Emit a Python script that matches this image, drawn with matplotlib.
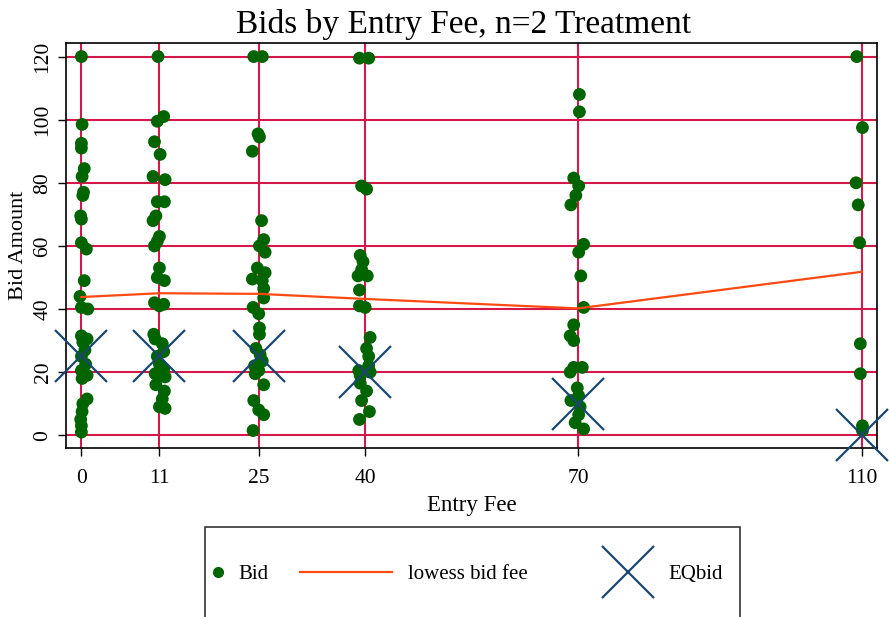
import numpy as np
import matplotlib
matplotlib.use("Agg")
import matplotlib.pyplot as plt
from matplotlib.lines import Line2D
from matplotlib.patches import Rectangle

plt.rcParams['font.family'] = ['Liberation Serif', 'DejaVu Serif']

# === data ===
fees = [0, 11, 25, 40, 70, 110]

# bids per entry fee, with the horizontal jitter seen in the plot
bids_0 = [120, 98.5, 92.5, 91, 84.5, 82, 77, 76, 69.5, 68.5, 61, 59, 49, 44, 40.5, 40,
          31.5, 30.5, 29.5, 27, 25, 22.5, 20.5, 19, 18, 11.5, 10, 7.5, 5, 3, 1]
jit_0 = [0, 0.1, 0, 0, 0.4, 0.1, 0.3, 0.2, -0.1, 0, 0, 0.7, 0.4, -0.2, 0, 0.9,
         0, 0.8, 0.2, 0.5, 0, 0.6, 0, 0.8, 0.1, 0.8, 0.2, 0.1, -0.1, 0, 0]

bids_11 = [120, 101, 99.5, 93, 89, 82, 81, 74, 74, 69.5, 68, 63, 61.5, 60, 53, 50, 49,
           42, 41.5, 41, 32, 30.5, 29, 26.5, 25, 22.5, 21, 19.5, 18.5, 16, 14, 11.5, 9, 8.5]
jit_11 = [-0.2, 0.6, -0.3, -0.7, 0.1, -0.9, 0.8, -0.3, 0.7, -0.5, -0.9, 0, -0.3, -0.7, 0, -0.3, 0.7,
          -0.7, 0.6, 0, -0.8, -0.6, 0.4, 0.6, -0.3, 0, 0.6, -0.6, 0.8, -0.5, 0.7, 0.4, 0, 0.8]

bids_25 = [120, 120, 95.5, 94.5, 90, 68, 62, 60, 58, 53, 51.5, 49.5, 49, 46.5, 43.5,
           40.5, 38.5, 34, 32, 27.5, 25.5, 23.5, 22, 20.5, 19.5, 16, 11, 8, 6.5, 1.5]
jit_25 = [-0.7, 0.5, -0.1, 0.1, -0.9, 0.4, 0.7, 0.1, 0.9, -0.2, 0.9, -0.9, 0.5, 0.7, 0.7,
          -0.8, 0, 0.1, 0.1, -0.4, 0.2, 0.5, -0.6, 0, -0.5, 0.7, -0.7, 0, 0.7, -0.8]

bids_40 = [119.5, 119.5, 79, 78, 57, 55, 52.5, 50.5, 50.5, 46, 41, 40.5,
           31, 27.5, 25, 22, 20.5, 20, 19, 16.5, 14, 11, 7.5, 5]
jit_40 = [-0.8, 0.5, -0.5, 0.2, -0.7, -0.3, -0.5, -1.0, 0.3, -0.8, -0.8, 0,
          0.7, 0.2, 0.5, 0.5, -0.9, 0.7, -0.7, -0.7, 0.2, -0.5, 0.6, -0.8]

bids_70 = [108, 102.5, 81.5, 79, 76, 73, 60.5, 58, 50.5, 40.5, 35, 31.5, 30,
           21.5, 21.5, 20, 15, 12.5, 11, 9, 6.5, 4, 2]
jit_70 = [0.2, 0.2, -0.6, 0.1, -0.3, -1.0, 0.8, 0.1, 0.4, 0.8, -0.6, -1.1, -0.6,
          -0.6, 0.6, -1.1, -0.1, 0.1, -1.0, 0.3, 0.1, -0.4, 0.8]

bids_110 = [120, 97.5, 80, 73, 61, 29, 19.5, 3, 1.5]
jit_110 = [-0.7, 0.1, -0.8, -0.5, -0.3, -0.2, -0.2, 0.1, 0.1]

lowess_fit = [43.8, 45.0, 44.8, 43.2, 40.2, 51.8]
eq_bid = [25, 25, 25, 20, 10, 0]

all_bids = [bids_0, bids_11, bids_25, bids_40, bids_70, bids_110]
all_jit = [jit_0, jit_11, jit_25, jit_40, jit_70, jit_110]

bid_x = np.concatenate([f + np.array(j) for f, j in zip(fees, all_jit)])
bid_y = np.concatenate([np.array(b) for b in all_bids])

# === colours ===
green = '#006400'
orange = '#ff4a12'
navy = '#1a476f'
gridc = '#d4194a'

fig = plt.figure(figsize=(8.89, 6.17), dpi=100)
ax = fig.add_axes([0.0748, 0.2731, 0.9121, 0.6577])

ax.scatter(bid_x, bid_y, s=85, color=green, edgecolors='none', zorder=3)
ax.plot(fees, lowess_fit, color=orange, lw=1.6, zorder=4)
ax.plot(fees, eq_bid, ls='none', marker='x', ms=38, mew=1.6, color=navy,
        zorder=5, clip_on=False)

ax.set_xlim(-2.1, 112.2)
ax.set_ylim(-4.2, 124.4)
ax.set_xticks(fees)
ax.set_yticks(range(0, 121, 20))
ax.grid(True, color=gridc, lw=1.5, zorder=1)
ax.set_axisbelow(True)
for s in ax.spines.values():
    s.set_linewidth(1.2)

ax.tick_params(axis='both', direction='out', length=6, width=1.0, labelsize=15.5)
ax.tick_params(axis='x', pad=9)
ax.tick_params(axis='y', pad=4)
for lab in ax.get_yticklabels():
    lab.set_rotation(90)
    lab.set_va('center')

ax.set_xlabel("Entry Fee", fontsize=16.5, labelpad=5)
ax.set_ylabel("Bid Amount", fontsize=16, labelpad=4)
fig.text(0.522, 0.946, "Bids by Entry Fee, n=2 Treatment", fontsize=24,
         ha='center', va='baseline')

# === legend (one key per entry, framed box running off the bottom) ===
fs = 15
px = 889.0
y_mid = 1 - 574 / 617
keys = [
    (Line2D([], [], ls='none', marker='o', ms=7, color=green), "Bid", 207.6, 1.0, 0.46),
    (Line2D([], [], color=orange, lw=1.6), "lowess bid fee", 300, 4.4, 0.77),
    (Line2D([], [], ls='none', marker='x', ms=38, mew=1.6, color=navy), "EQbid", 600, 2.64, 0.62),
]
for h, lab, x0, hl, tp in keys:
    lg = fig.legend([h], [lab], loc='center left', bbox_to_anchor=(x0 / px, y_mid),
                    fontsize=fs, frameon=False, handlelength=hl, handletextpad=tp,
                    borderpad=0, borderaxespad=0)
fig.add_artist(Rectangle((205 / px, -0.1), 535 / px, (1 - 527 / 617) + 0.1,
                         transform=fig.transFigure, fill=False,
                         edgecolor='#333333', lw=1.2))

fig.savefig("out.png", dpi=100, facecolor='white')
